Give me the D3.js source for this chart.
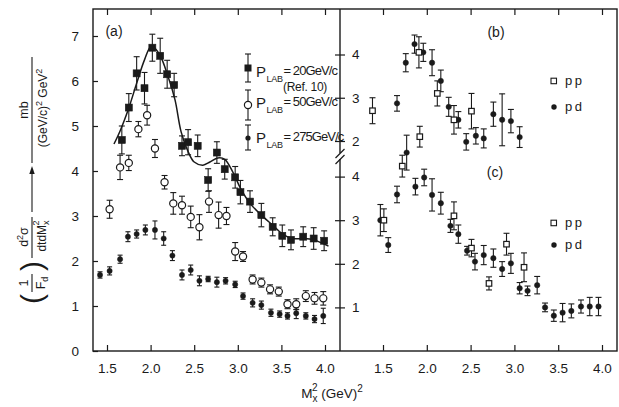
<!DOCTYPE html>
<html>
<head>
<meta charset="utf-8">
<script src="https://cdn.jsdelivr.net/npm/d3@7"></script>
<style>
  body { margin: 0; background: #fff; }
  svg text { font-family: "Liberation Sans", Arial, sans-serif; fill: #1a1a1a; }
</style>
</head>
<body>
<svg id="chart" width="619" height="407"></svg>
<script>
// ---- panel (a): P_LAB = 20 GeV/c (Ref. 10), filled squares
const p20X = [1.67,1.75,1.84,1.93,2.02,2.11,2.19,2.27,2.36,2.43,2.54,2.66,2.76,2.85,2.97,3.03,3.14,3.27,3.40,3.51,3.61,3.75,3.87,3.99];
const p20Y = [4.69,5.41,6.17,5.84,6.74,6.56,6.15,5.91,4.56,4.64,4.56,3.80,4.41,4.04,3.86,3.53,3.32,3.02,2.76,2.56,2.47,2.54,2.50,2.45];
const p20E = [0.31,0.31,0.37,0.35,0.30,0.39,0.31,0.26,0.22,0.28,0.24,0.25,0.24,0.22,0.24,0.26,0.24,0.26,0.20,0.24,0.22,0.22,0.24,0.22];

// P_LAB = 50 GeV/c, open circles
const p50X = [1.53,1.65,1.75,1.86,1.96,2.05,2.16,2.26,2.36,2.46,2.56,2.67,2.78,2.87,2.97,3.06,3.17,3.27,3.37,3.47,3.57,3.67,3.78,3.88,3.98];
const p50Y = [3.15,4.08,4.18,4.93,5.24,4.50,3.75,3.28,3.24,2.98,2.75,3.32,3.02,3.00,2.21,2.10,1.59,1.52,1.37,1.32,1.04,1.04,1.22,1.17,1.17];
const p50E = [0.20,0.27,0.17,0.17,0.22,0.20,0.15,0.24,0.20,0.24,0.28,0.24,0.29,0.19,0.20,0.11,0.10,0.10,0.10,0.10,0.10,0.12,0.12,0.13,0.15];

// P_LAB = 275 GeV/c, small dots
const p275X = [1.42,1.53,1.65,1.74,1.84,1.94,2.05,2.15,2.25,2.36,2.46,2.56,2.66,2.76,2.86,2.97,3.06,3.17,3.27,3.38,3.48,3.57,3.67,3.78,3.88,3.98];
const p275Y = [1.69,1.78,2.04,2.54,2.60,2.69,2.69,2.50,2.12,1.69,1.80,1.56,1.60,1.53,1.56,1.48,1.22,1.07,1.02,0.85,0.82,0.78,0.84,0.78,0.71,0.78];
const p275E = [0.07,0.09,0.09,0.11,0.09,0.11,0.20,0.15,0.11,0.11,0.11,0.11,0.06,0.11,0.07,0.07,0.07,0.09,0.09,0.08,0.07,0.07,0.12,0.07,0.08,0.17];

// solid curve through the 20 GeV/c data
const fitX = [1.58,1.65,1.75,1.84,1.93,2.01,2.10,2.20,2.28,2.35,2.43,2.50,2.60,2.68,2.77,2.85,2.95,3.03,3.14,3.27,3.41,3.50,3.62,3.75,3.87,4.04];
const fitY = [4.60,4.89,5.40,5.95,6.47,6.78,6.60,6.10,5.58,4.87,4.43,4.20,4.13,4.20,4.29,4.26,3.95,3.62,3.28,3.02,2.78,2.62,2.50,2.50,2.47,2.33];

// ---- panel (b)
const bppX = [1.38,1.91,1.92,2.12,2.31,2.51];
const bppY = [2.70,4.05,2.10,3.10,2.49,2.69];
const bppE = [0.30,0.36,0.24,0.29,0.33,0.41];
const bpdX = [1.66,1.76,1.86,1.96,2.06,2.16,2.25,2.36,2.45,2.56,2.65,2.76,2.86,2.96,3.06];
const bpdY = [2.87,3.81,4.24,4.05,3.81,3.39,2.79,2.49,1.98,2.12,2.06,2.62,2.49,2.46,2.09];
const bpdE = [0.18,0.21,0.21,0.21,0.30,0.25,0.22,0.19,0.19,0.19,0.22,0.28,0.60,0.27,0.24];

// ---- panel (c)
const cppX = [1.51,1.72,2.31,2.51,2.71,2.91,3.11];
const cppY = [3.00,4.24,3.10,2.36,1.55,2.45,1.92];
const cppE = [0.26,0.25,0.32,0.20,0.15,0.25,0.33];
const cpdX = [1.47,1.56,1.66,1.77,1.87,1.97,2.06,2.16,2.27,2.36,2.46,2.55,2.65,2.76,2.86,2.96,3.06,3.15,3.26,3.35,3.45,3.55,3.65,3.76,3.86,3.96];
const cpdY = [3.00,2.43,3.59,4.55,3.77,3.98,3.58,3.39,2.87,2.68,2.30,2.05,2.20,2.13,1.88,2.01,1.44,1.38,1.51,1.00,0.81,0.88,0.92,1.02,1.02,1.02];
const cpdE = [0.36,0.17,0.19,0.40,0.19,0.19,0.37,0.25,0.15,0.21,0.10,0.19,0.22,0.21,0.17,0.23,0.13,0.11,0.20,0.10,0.13,0.21,0.16,0.15,0.21,0.21];

// ticks
const xTicks = [1.5, 2.0, 2.5, 3.0, 3.5, 4.0];
const yTicksA = [0, 1, 2, 3, 4, 5, 6, 7];
const yTicksB = [2, 3, 4];
const yTicksC = [1, 2, 3, 4];

const ink = "#1a1a1a";
const svg = d3.select("#chart");

const xa = d3.scaleLinear().domain([1.5, 4.0]).range([107, 325]);
const xb = d3.scaleLinear().domain([1.5, 4.0]).range([383, 602]);
const ya = d3.scaleLinear().domain([0, 7]).range([351, 36]);
const yb = d3.scaleLinear().domain([2, 4]).range([141, 54.5]);
const yc = d3.scaleLinear().domain([0, 4]).range([351, 176.6]);

const zip = (xs, ys, es) => xs.map((x, i) => ({ x, y: ys[i], e: es[i] }));

// frame
svg.append("rect")
  .attr("x", 93).attr("y", 9).attr("width", 524).attr("height", 342)
  .attr("fill", "none").attr("stroke", ink).attr("stroke-width", 1.4);
svg.append("line")
  .attr("x1", 340).attr("x2", 340).attr("y1", 9).attr("y2", 351)
  .attr("stroke", ink).attr("stroke-width", 1.4);

function styleAxis(g) {
  g.select(".domain").remove();
  g.selectAll("line").attr("stroke", ink).attr("stroke-width", 1.2);
  g.selectAll("text")
    .attr("font-size", 13.5)
    .attr("fill", ink)
    .attr("font-family", "Liberation Sans, Arial, sans-serif");
}

// bottom / top axes
const fmt1 = d3.format(".1f");
[xa, xb].forEach(x => {
  svg.append("g").attr("transform", "translate(0,351)")
    .call(d3.axisBottom(x).tickValues(xTicks).tickFormat(fmt1).tickSize(-6).tickPadding(12))
    .call(styleAxis);
  svg.append("g").attr("transform", "translate(0,9)")
    .call(d3.axisTop(x).tickValues(xTicks).tickFormat("").tickSize(-6))
    .call(styleAxis);
});

// left axis panel (a)
svg.append("g").attr("transform", "translate(93,0)")
  .call(d3.axisLeft(ya).tickValues(yTicksA).tickFormat(d3.format("d")).tickSize(-5).tickPadding(14))
  .call(styleAxis);

// shared divider axis for (b) and (c)
[[yb, yTicksB], [yc, yTicksC]].forEach(([y, t]) => {
  svg.append("g").attr("transform", "translate(340,0)")
    .call(d3.axisRight(y).tickValues(t).tickFormat(d3.format("d")).tickSize(5).tickPadding(7))
    .call(styleAxis);
  svg.append("g").attr("transform", "translate(340,0)")
    .call(d3.axisLeft(y).tickValues(t).tickFormat("").tickSize(5))
    .call(styleAxis);
});

// axis break marks
svg.append("rect").attr("x", 338).attr("y", 153).attr("width", 4).attr("height", 6).attr("fill", "#fff");
[0, 6].forEach(d => {
  svg.append("line")
    .attr("x1", 335.5).attr("y1", 158 + d).attr("x2", 344.5).attr("y2", 149 + d)
    .attr("stroke", ink).attr("stroke-width", 1.3);
});

// ---- mark helpers
function errorBars(g, data, x, y, cap = 3) {
  const eb = g.append("g").attr("stroke", ink).attr("stroke-width", 1.1);
  eb.selectAll(".v").data(data).join("line")
    .attr("x1", d => x(d.x)).attr("x2", d => x(d.x))
    .attr("y1", d => y(d.y - d.e)).attr("y2", d => y(d.y + d.e));
  eb.selectAll(".t").data(data).join("line").attr("class", "t")
    .attr("x1", d => x(d.x) - cap).attr("x2", d => x(d.x) + cap)
    .attr("y1", d => y(d.y + d.e)).attr("y2", d => y(d.y + d.e));
  eb.selectAll(".b").data(data).join("line").attr("class", "b")
    .attr("x1", d => x(d.x) - cap).attr("x2", d => x(d.x) + cap)
    .attr("y1", d => y(d.y - d.e)).attr("y2", d => y(d.y - d.e));
}
function squares(g, data, x, y, s, filled) {
  g.append("g").selectAll("rect").data(data).join("rect")
    .attr("x", d => x(d.x) - s / 2).attr("y", d => y(d.y) - s / 2)
    .attr("width", s).attr("height", s)
    .attr("fill", filled ? ink : "#fff")
    .attr("stroke", ink).attr("stroke-width", filled ? 0.6 : 1.2);
}
function circles(g, data, x, y, r, filled) {
  g.append("g").selectAll("circle").data(data).join("circle")
    .attr("cx", d => x(d.x)).attr("cy", d => y(d.y)).attr("r", r)
    .attr("fill", filled ? ink : "#fff")
    .attr("stroke", ink).attr("stroke-width", filled ? 0.5 : 1.2);
}

const marks = svg.append("g");

// panel (a)
const fit = fitX.map((x, i) => [x, fitY[i]]);
marks.append("path")
  .attr("d", d3.line().curve(d3.curveCatmullRom.alpha(0.5)).x(d => xa(d[0])).y(d => ya(d[1]))(fit))
  .attr("fill", "none").attr("stroke", ink).attr("stroke-width", 1.5);

const d20 = zip(p20X, p20Y, p20E);
const d50 = zip(p50X, p50Y, p50E);
const d275 = zip(p275X, p275Y, p275E);
errorBars(marks, d20, xa, ya);
errorBars(marks, d50, xa, ya);
errorBars(marks, d275, xa, ya, 2.5);
squares(marks, d20, xa, ya, 7, true);
circles(marks, d50, xa, ya, 3.6, false);
circles(marks, d275, xa, ya, 2.6, true);

// panel (b)
const dbpp = zip(bppX, bppY, bppE);
const dbpd = zip(bpdX, bpdY, bpdE);
errorBars(marks, dbpp, xb, yb);
errorBars(marks, dbpd, xb, yb);
circles(marks, dbpd, xb, yb, 2.7, true);
squares(marks, dbpp, xb, yb, 5.5, false);

// panel (c)
const dcpp = zip(cppX, cppY, cppE);
const dcpd = zip(cpdX, cpdY, cpdE);
errorBars(marks, dcpp, xb, yc);
errorBars(marks, dcpd, xb, yc);
circles(marks, dcpd, xb, yc, 2.7, true);
squares(marks, dcpp, xb, yc, 5.5, false);

// ---- panel labels
const lbl = (x, y, t, size = 14) => svg.append("text").attr("x", x).attr("y", y)
  .attr("text-anchor", "middle").attr("font-size", size).text(t);
lbl(114, 36, "(a)");
lbl(496, 37, "(b)");
lbl(495, 177, "(c)");

// ---- legend (a)
const legA = svg.append("g");
const legRows = [
  { y: 68, yb: 77, lo: 14, hi: 14, txt: "= 20GeV/c", kind: "sq" },
  { y: 105, yb: 108, lo: 15, hi: 15, txt: "= 50GeV/c", kind: "oc" },
  { y: 138, yb: 143, lo: 12, hi: 13, txt: "= 275GeV/c", kind: "dot" }
];
legRows.forEach(r => {
  legA.append("line").attr("x1", 248).attr("x2", 248).attr("y1", r.y - r.hi).attr("y2", r.y + r.lo)
    .attr("stroke", ink).attr("stroke-width", 1.1);
  [r.y - r.hi, r.y + r.lo].forEach(yy => legA.append("line")
    .attr("x1", 245).attr("x2", 251).attr("y1", yy).attr("y2", yy)
    .attr("stroke", ink).attr("stroke-width", 1.1));
  if (r.kind === "sq") legA.append("rect").attr("x", 244.5).attr("y", r.y - 3.5).attr("width", 7).attr("height", 7).attr("fill", ink);
  if (r.kind === "oc") legA.append("circle").attr("cx", 248).attr("cy", r.y).attr("r", 3.6).attr("fill", "#fff").attr("stroke", ink).attr("stroke-width", 1.2);
  if (r.kind === "dot") legA.append("circle").attr("cx", 248).attr("cy", r.y).attr("r", 2.6).attr("fill", ink);
  const t = legA.append("text").attr("x", 256).attr("y", r.yb).attr("font-size", 15);
  t.append("tspan").text("P");
  t.append("tspan").attr("font-size", 9).attr("dy", 5).attr("dx", 0.5).attr("letter-spacing", -0.2).text("LAB");
  t.append("tspan").attr("font-size", 13).attr("dy", -7).attr("dx", 0.5).attr("letter-spacing", -0.9).text(r.txt);
});
legA.append("text").attr("x", 283).attr("y", 91).attr("font-size", 12).attr("letter-spacing", -0.3).text("(Ref. 10)");

// ---- legends (b), (c)
[[81, 107], [223, 245]].forEach(([yp, yd]) => {
  svg.append("rect").attr("x", 551).attr("y", yp - 2.8).attr("width", 5.5).attr("height", 5.5)
    .attr("fill", "#fff").attr("stroke", ink).attr("stroke-width", 1.1);
  svg.append("circle").attr("cx", 554).attr("cy", yd).attr("r", 2.7).attr("fill", ink);
  svg.append("text").attr("x", 565).attr("y", yp + 4).attr("font-size", 13).attr("letter-spacing", 2.5).text("pp");
  svg.append("text").attr("x", 565).attr("y", yd + 4).attr("font-size", 13).attr("letter-spacing", 2.5).text("pd");
});

// ---- x title
const xt = svg.append("text").attr("x", 332).attr("y", 398).attr("text-anchor", "middle").attr("font-size", 13.5);
xt.append("tspan").text("M");
xt.append("tspan").attr("font-size", 10).attr("dy", 4).text("x");
xt.append("tspan").attr("font-size", 10).attr("dx", -5.5).attr("dy", -11).text("2");
xt.append("tspan").attr("dy", 7).text(" (GeV)");
xt.append("tspan").attr("font-size", 10).attr("dy", -6).text("2");

// ---- y title (rotated; local x = -screenY, local y = screenX)
const yt = svg.append("g").attr("transform", "rotate(-90)");
const ytxt = (u, v, size) => yt.append("text").attr("x", u).attr("y", v)
  .attr("text-anchor", "middle").attr("font-size", size);
const bar = (u1, u2, v) => yt.append("line").attr("x1", u1).attr("x2", u2).attr("y1", v).attr("y2", v)
  .attr("stroke", ink).attr("stroke-width", 1.1);

ytxt(-110, 28, 12.5).text("mb");
bar(-163, -57, 32);
const den = ytxt(-108, 47, 12);
den.append("tspan").text("(GeV/c)");
den.append("tspan").attr("font-size", 9).attr("dy", -5).text("2");
den.append("tspan").attr("dy", 5).text(" GeV");
den.append("tspan").attr("font-size", 9).attr("dy", -5).text("2");

// arrow
bar(-212, -172, 32);
yt.append("path").attr("d", "M-166,32 L-174,29.3 L-174,34.7 Z").attr("fill", ink);

const num = ytxt(-237, 28, 12.5);
num.append("tspan").text("d");
num.append("tspan").attr("font-size", 9).attr("dy", -5).text("2");
num.append("tspan").attr("dy", 5).text("σ");
bar(-258, -217, 32);
const dd = ytxt(-236, 46, 12);
dd.append("tspan").text("dtdM");
dd.append("tspan").attr("font-size", 9).attr("dy", 3).text("x");
dd.append("tspan").attr("font-size", 9).attr("dx", -5).attr("dy", -10).text("2");

ytxt(-283, 28, 12.5).text("1");
bar(-292, -274, 32);
const fd = ytxt(-283, 45, 12.5);
fd.append("tspan").text("F");
fd.append("tspan").attr("font-size", 9).attr("dy", 3).text("d");
ytxt(-299, 42, 30).attr("font-weight", 300).text("(");
ytxt(-266, 42, 30).attr("font-weight", 300).text(")");
</script>
</body>
</html>
